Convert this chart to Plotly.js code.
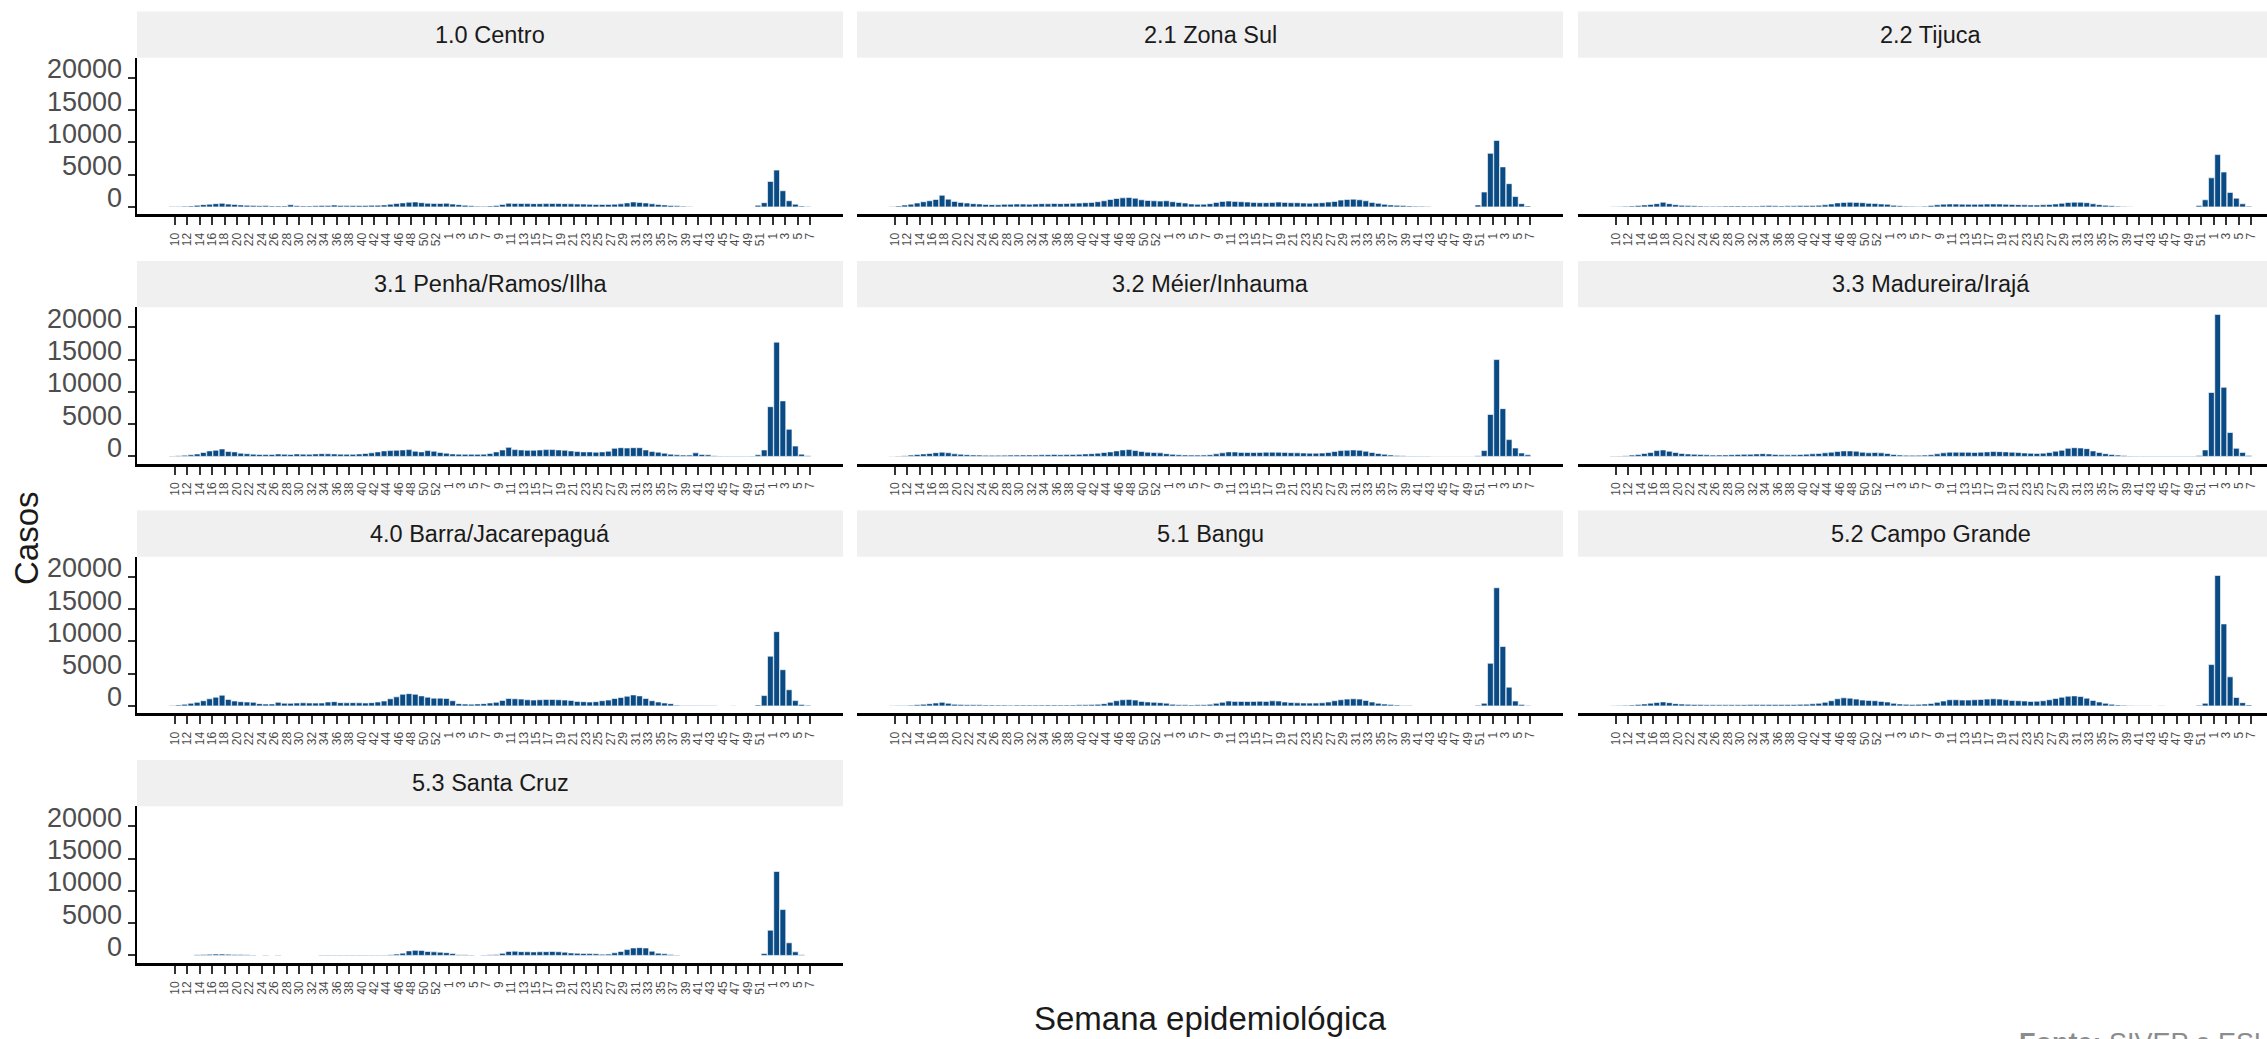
<!DOCTYPE html>
<html><head><meta charset="utf-8">
<script src="https://cdn.plot.ly/plotly-3.0.1.min.js"></script>
<style>html,body{margin:0;padding:0;overflow:hidden;background:#fff}#chart{width:2300px;height:1039px}</style>
</head><body><div id="chart"></div>
<script>
// Epidemiological weeks: 2020 w10-w53, 2021 w1-w52, 2022 w1-w7
const weeks = [10,11,12,13,14,15,16,17,18,19,20,21,22,23,24,25,26,27,28,29,30,31,32,33,34,35,36,37,38,39,40,41,42,43,44,45,46,47,48,49,50,51,52,53,
  1,2,3,4,5,6,7,8,9,10,11,12,13,14,15,16,17,18,19,20,21,22,23,24,25,26,27,28,29,30,31,32,33,34,35,36,37,38,39,40,41,42,43,44,45,46,47,48,49,50,51,52,
  1,2,3,4,5,6,7];

const panelTitles = ["1.0 Centro","2.1 Zona Sul","2.2 Tijuca","3.1 Penha/Ramos/Ilha","3.2 Méier/Inhauma","3.3 Madureira/Irajá","4.0 Barra/Jacarepaguá","5.1 Bangu","5.2 Campo Grande","5.3 Santa Cruz"];

const centro = [50,80,120,150,250,350,420,500,560,430,380,300,250,200,180,200,150,150,150,330,180,150,150,170,230,200,280,230,200,210,220,230,250,260,300,420,520,620,720,760,650,560,540,520,
  560,430,350,250,160,120,100,150,220,380,560,540,520,510,500,500,510,520,520,500,480,450,430,400,380,380,390,420,470,620,760,700,610,480,380,300,230,160,110,60,0,0,0,0,0,0,0,0,0,0,250,650,
  3950,5700,2500,950,420,130,80];
const zonaSul = [60,150,280,420,600,800,950,1150,1800,1200,850,700,600,500,450,380,350,330,400,420,450,430,420,450,500,480,520,500,530,560,600,650,700,800,950,1150,1300,1400,1450,1350,1100,1000,950,900,
  950,800,700,600,450,400,420,500,700,850,900,850,800,750,700,650,650,700,750,700,650,650,600,580,600,650,750,850,1050,1150,1200,1100,950,700,550,400,300,250,200,150,120,100,80,0,0,0,0,0,0,0,300,2300,
  8300,10300,6200,3600,1600,500,150];
const tijuca = [30,60,100,150,200,300,380,500,720,500,350,250,200,170,140,120,110,120,130,150,150,140,130,140,180,200,170,150,160,170,200,210,230,260,330,450,620,700,720,700,650,550,520,450,
  400,250,180,120,90,80,110,200,320,420,450,430,420,400,400,410,440,450,440,410,380,350,320,300,300,330,380,450,560,680,730,720,650,480,350,250,180,120,80,40,0,0,0,0,0,0,0,0,0,0,200,1100,
  4500,8100,5400,2250,1350,480,120];
const penha = [60,100,180,250,380,600,850,950,1150,750,700,500,420,350,300,280,300,380,330,300,380,350,320,380,420,400,380,350,330,320,380,450,550,700,850,900,950,1000,1050,800,700,900,800,600,
  500,380,350,320,330,320,350,450,700,1000,1400,1050,1000,950,950,1000,1050,1050,1000,950,850,750,700,700,650,700,800,1250,1350,1300,1350,1350,1000,750,650,500,350,250,200,200,550,300,250,120,80,60,60,60,50,80,250,1000,
  7700,17700,8600,4200,1600,350,100];
const meier = [40,70,120,200,300,380,450,580,650,560,400,330,270,220,200,180,170,180,190,200,210,220,230,220,250,270,300,260,280,300,330,380,420,500,600,700,850,1000,1050,900,750,650,600,550,
  420,320,250,220,200,200,210,260,400,550,700,680,620,600,600,620,650,650,640,620,580,550,520,500,500,520,600,750,900,950,1000,950,800,600,450,330,220,150,100,70,60,50,50,40,40,40,40,40,40,40,120,900,
  6500,15000,7400,2600,1300,520,250];
const madureira = [50,80,120,200,280,450,600,900,1000,800,600,450,380,330,300,250,200,220,230,260,300,320,330,380,420,380,300,250,240,260,300,350,400,450,550,650,750,850,850,800,650,550,600,550,
  450,300,220,180,170,180,200,260,400,550,650,650,640,630,620,650,700,750,730,700,650,600,520,480,460,500,600,800,950,1250,1350,1300,1200,850,600,420,300,200,130,80,60,50,50,50,50,50,50,50,50,60,150,1000,
  9900,22000,10700,3700,1250,620,150];
const barra = [80,150,250,400,550,800,1100,1350,1650,1000,750,650,600,550,350,280,300,550,420,400,450,480,450,430,450,600,650,500,480,500,480,450,500,600,750,1100,1400,1800,1900,1800,1550,1350,1200,1200,
  1150,800,350,280,270,300,350,450,550,850,1150,1100,1050,950,900,950,1000,1000,950,900,850,700,650,600,650,800,900,1150,1300,1500,1700,1550,1150,800,600,450,350,120,80,80,70,70,60,60,0,0,40,0,0,0,150,1600,
  7700,11500,5600,2500,820,230,100];
const bangu = [30,50,80,120,180,260,340,450,550,400,250,200,180,170,160,150,140,130,130,120,130,140,130,130,140,150,150,140,140,150,160,170,200,250,350,550,800,950,1000,900,700,600,550,500,
  420,250,180,160,150,160,180,250,400,550,750,700,700,680,700,720,700,780,750,600,520,480,450,430,440,480,600,800,950,1050,1100,1050,850,600,400,280,200,130,80,50,0,0,0,0,0,0,0,0,0,0,100,400,
  6600,18300,9200,2900,750,200,80];
const campoGrande = [30,50,90,140,200,300,420,520,620,500,350,280,240,220,200,180,170,170,160,170,180,190,200,200,210,230,220,210,210,220,240,270,320,400,550,800,1100,1250,1200,1050,900,850,800,700,
  600,400,300,250,230,240,280,380,550,750,950,950,900,900,950,1000,1050,1100,1050,950,850,800,750,700,720,800,950,1150,1350,1500,1550,1450,1200,850,600,400,250,150,100,60,40,30,30,0,30,0,0,0,0,0,100,400,
  6400,20200,12700,4500,1300,500,150];
const santaCruz = [0,0,0,0,120,150,180,200,200,180,150,130,100,80,0,60,0,60,0,0,0,0,0,0,80,80,80,80,80,80,80,80,60,60,80,120,200,350,700,780,750,600,550,500,
  420,300,120,100,80,0,80,100,150,320,620,650,580,560,540,560,580,600,560,500,380,330,300,280,260,180,200,400,600,900,1150,1200,1150,650,350,250,150,80,0,0,0,0,0,0,0,0,0,0,0,0,0,300,
  3900,13000,7100,1950,550,100,0];

const series = [centro, zonaSul, tijuca, penha, meier, madureira, barra, bangu, campoGrande, santaCruz];
const yTicks = [0, 5000, 10000, 15000, 20000];

// ---- layout geometry (pixels) ----
const W = 2300, H = 1039;
const colX = [137, 857, 1578], panelW = 706;
const stripTop0 = 11.6, stripH = 46.2, panelH = 156.2, rowStep = 249.5;
const FONT = "Liberation Sans, Arial, Helvetica, sans-serif";

const idx = weeks.map((w, i) => i);
const tickIdx = idx.filter(i => i % 2 === 0);

const data = [];
const layout = {
  width: W, height: H, margin: {l:0, r:0, t:0, b:0},
  paper_bgcolor: '#ffffff', plot_bgcolor: '#ffffff',
  showlegend: false, bargap: 0.08,
  font: {family: FONT, color: '#1a1a1a'},
  shapes: [], annotations: []
};

series.forEach((vals, p) => {
  const row = Math.floor(p / 3), col = p % 3;
  const n = p === 0 ? '' : String(p + 1);
  const x0 = colX[col], x1 = x0 + panelW;
  const sTop = stripTop0 + row * rowStep, sBot = sTop + stripH;
  const pBot = sBot + panelH;
  const firstCol = col === 0;
  data.push({
    type: 'bar', x: idx, y: vals, xaxis: 'x' + n, yaxis: 'y' + n,
    marker: {color: '#0A4B85', line: {color: '#ffffff', width: 0.6}},
    hoverinfo: 'y'
  });
  layout['xaxis' + n] = {
    domain: [x0 / W, x1 / W], anchor: 'y' + n,
    range: [-5.65, weeks.length - 0.5 + 5.15],
    tickmode: 'array', tickvals: tickIdx.map(i => i + 0.4), ticktext: tickIdx.map(i => String(weeks[i])),
    tickangle: -90, ticks: 'outside', ticklen: 8, tickwidth: 2, tickcolor: '#333333',
    ticklabelstandoff: 3,
    showline: true, linecolor: '#000000', linewidth: 3, showgrid: false, zeroline: false,
    tickfont: {size: 12, color: '#4d4d4d', family: FONT}, fixedrange: true
  };
  layout['yaxis' + n] = {
    domain: [1 - pBot / H, 1 - sBot / H], anchor: 'x' + n,
    range: [-1100, 23100],
    tickmode: 'array', tickvals: yTicks, ticktext: yTicks.map(String),
    ticks: firstCol ? 'outside' : '', ticklen: 7, tickwidth: 2, tickcolor: '#333333',
    showticklabels: firstCol,
    showline: firstCol, linecolor: '#000000', linewidth: 2.5, showgrid: false, zeroline: false,
    tickfont: {size: 27, color: '#4d4d4d', family: FONT}, ticklabelshift: -9, fixedrange: true
  };
  layout.shapes.push({type: 'rect', xref: 'paper', yref: 'paper', x0: x0 / W, x1: x1 / W,
    y0: 1 - sBot / H, y1: 1 - sTop / H, fillcolor: '#F0F0F0', line: {width: 0}, layer: 'below'});
  layout.annotations.push({xref: 'paper', yref: 'paper', x: (x0 + x1) / 2 / W, y: 1 - (sTop + stripH / 2) / H,
    text: panelTitles[p], showarrow: false, xanchor: 'center', yanchor: 'middle',
    font: {size: 23.5, color: '#1a1a1a', family: FONT}});
});

layout.annotations.push({xref: 'paper', yref: 'paper', x: 26 / W, y: 1 - 538 / H, text: 'Casos', textangle: -90,
  showarrow: false, xanchor: 'center', yanchor: 'middle', font: {size: 33, color: '#1a1a1a', family: FONT}});
layout.annotations.push({xref: 'paper', yref: 'paper', x: 1210 / W, y: 1 - 1018 / H, text: 'Semana epidemiológica',
  showarrow: false, xanchor: 'center', yanchor: 'middle', font: {size: 33, color: '#1a1a1a', family: FONT}});
layout.annotations.push({xref: 'paper', yref: 'paper', x: 2017 / W, y: 1 - 1026 / H, text: '<b>Fonte:</b> SIVEP e ESUS',
  showarrow: false, xanchor: 'left', yanchor: 'top', font: {size: 27, color: '#8c8c8c', family: FONT}});

Plotly.newPlot('chart', data, layout, {staticPlot: true, displayModeBar: false});
</script>
</body></html>
